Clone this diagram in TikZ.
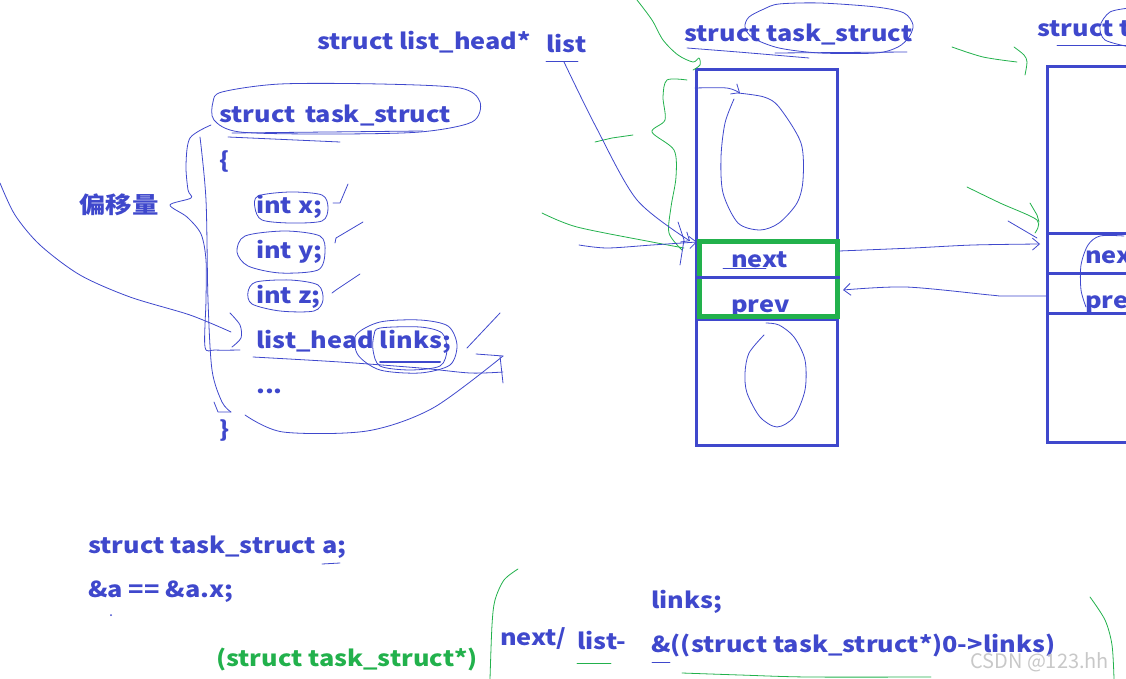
\documentclass[tikz,border=0pt]{standalone}
\usepackage{fontspec}
\newfontfamily\yh{Noto Sans CJK SC}[FakeStretch=1.15]
\newfontfamily\wmfont{Noto Sans CJK SC}
\usetikzlibrary{arrows.meta}
\definecolor{pblue}{HTML}{3F48CC}
\definecolor{pgreen}{HTML}{22B14C}
\definecolor{wm}{HTML}{C8C8C8}
\begin{document}
\begin{tikzpicture}[x=1pt,y=-1pt,
 txt/.style={font=\yh\bfseries\fontsize{22}{22}\selectfont, text=pblue, inner sep=0pt, anchor=base west},
 gtxt/.style={txt, text=pgreen},
 pen/.style={draw=pblue, line width=0.8pt, line cap=round, line join=round},
 gpen/.style={draw=pgreen, line width=0.8pt, line cap=round, line join=round},
 boxline/.style={draw=pblue, line width=3pt},
 harrow/.style={pen, -{Straight Barb[length=7pt,width=12pt]}},
 memo/.style={draw=pblue, line width=3pt, inner sep=0pt, anchor=north west}
]
\useasboundingbox (0,0) rectangle (1126,679);
\clip (0,0) rectangle (1126,679);

% ---------- left: structure text ----------
\node[txt] (lhp) at (317,50) {struct list\_head*};
\node[txt] (list) at (546,53) {list};
\node[txt] (ts) at (219,123) {struct\, task\_struct};
\node[txt] (ob) at (219,168) {\{};
\node[txt] (ix) at (256,213) {int x;};
\node[txt] (iy) at (256,258) {int y;};
\node[txt] (iz) at (256,303) {int z;};
\node[txt] (lh) at (256,348) {list\_head links;};
\node[txt] (dots) at (256,393) {...};
\node[txt] (cb) at (219,437) {\}};
\node[txt, anchor=west, font=\yh\bfseries\fontsize{23}{23}\selectfont] (off) at (79,205) {偏移量};

% underline of list
\draw[pen] (546,61) -- (578,61);
\coordinate (listfoot) at (564,62);

% ellipse around struct task_struct
\draw[pen] plot[smooth cycle] coordinates {(222,92) (280,84) (380,84) (460,88) (480,102) (472,122) (420,132) (330,134) (240,132) (214,120) (213,102)};
\draw[pen] (228,137) -- (340,142);
\draw[pen] (232,133) -- (423,131);

% brace with 偏移量
\draw[pen] plot[smooth] coordinates {(211,125) (190,138) (186,165) (188,190) (191,198) (170,205) (187,217) (201,234) (206,260) (206,300) (205,347) (215,350) (240,350)};
\draw[pen] plot[smooth] coordinates {(200,137) (206,200) (208,300) (212,370) (222,402) (231,412)};
\draw[pen] (214,402) -- (218,412) -- (231,412);

% big curve to list_head
\draw[pen] plot[smooth] coordinates {(0,183) (15,215) (40,245) (80,275) (130,297) (190,315) (231,332)};
\draw[pen] plot[smooth] coordinates {(230,313) (240,325) (241,338) (232,347)};

% ellipses around members
\draw[pen] plot[smooth cycle] coordinates {(258,196) (290,192) (322,195) (328,208) (322,221) (290,223) (262,220) (255,208)};
\draw[pen] plot[smooth cycle] coordinates {(245,236) (285,231) (320,236) (325,252) (318,270) (280,273) (248,266) (237,252)};
\draw[pen] plot[smooth cycle] coordinates {(256,282) (290,280) (318,285) (323,300) (314,311) (280,311) (252,304) (248,292)};
\draw[pen] plot[smooth cycle] coordinates {(380,322) (420,320) (448,326) (457,345) (450,365) (420,373) (380,370) (358,355) (356,335)};
\draw[pen] plot[smooth cycle] coordinates {(380,328) (420,327) (442,333) (447,350) (440,366) (410,370) (380,366) (373,350) (374,335)};
\draw[pen, line width=2pt] (380,362) -- (440,362);

% check marks
\draw[pen] (333,203) -- (340,203) -- (348,184);
\draw[pen] (335,243) -- (336,238) -- (363,222);
\draw[pen] (332,293) -- (336,290) -- (360,274);
\draw[pen] (467,348) -- (500,313);

% underline of list_head links and bottom curve
\draw[pen] plot[smooth] coordinates {(253,357) (340,362) (420,368) (470,373) (503,372)};
\draw[pen] (476,354) -- (503,356);
\draw[pen] (500,356) -- (503,383);
\draw[pen] plot[smooth] coordinates {(245,415) (283,432) (367,431) (433,408) (503,356)};

% ---------- box 1 ----------
\node[txt] (t1) at (684,42) {struct task\_struct};
\draw[pen] plot[smooth cycle] coordinates {(764,9) (779,4) (820,3) (876,7) (904,13) (913,25) (909,37) (898,47) (876,53) (820,53) (779,48) (753,38) (745,27) (749,17)};
\draw[pen] plot[smooth] coordinates {(687,48) (738,52) (809,58)};
\draw[pen] (775,53) -- (907,52);

\node[txt] (nx1) at (731,267) {next};
\node[txt] (pv1) at (731,312) {prev};
\draw[pen] (723,268) -- (766,268);

\node[memo, minimum width=141pt, minimum height=376pt] (b1) at (695,68) {};
\draw[boxline] (b1.west |- 0,319) -- (b1.east |- 0,319);
\node[draw=pgreen, line width=4.5pt, inner sep=0pt, minimum width=138pt, minimum height=75pt, anchor=north west] (np1) at (697,239) {};
\draw[boxline] (np1.west |- 0,277) -- (np1.east |- 0,277);

% ovals in box 1
\draw[pen] plot[smooth] coordinates {(734,99) (725,123) (721,157) (723,193) (738,223) (760,230) (779,223) (797,203) (803,180) (801,143) (779,107) (764,97) (738,93)};
\draw[harrow] plot[smooth] coordinates {(b1.north west |- 0,88) (727,88) (740,93)};
\draw[pen] plot[smooth] coordinates {(764,335) (749,353) (745,373) (747,393) (760,417) (777,427) (794,417) (805,390) (805,360) (794,337) (779,325) (766,323)};

% green marks near box 1
\draw[gpen] plot[smooth] coordinates {(637,0) (652,20) (663,40) (678,55) (693,62) (699,58) (700,65) (693,70)};
\draw[gpen] plot[smooth] coordinates {(687,80) (667,80) (663,97) (665,120) (652,132) (674,150) (676,177) (671,207) (669,233) (682,250)};
\draw[gpen] (595,142) -- (612,138) -- (633,135);
\draw[gpen] plot[smooth] coordinates {(542,213) (577,227) (652,242) (684,248)};

% arrows into next of box 1
\draw[harrow] plot[smooth] coordinates {(listfoot) (596,127) (637,200) (690,241)};
\draw[harrow] plot[smooth] coordinates {(579,245) (607,248) (652,245) (np1.west |- 0,242)};
\draw[pen] (678,222) -- (684,240) -- (680,265);

% ---------- box 2 ----------
\node[txt] (t2) at (1037,37) {struct task\_struct};
\draw[pen] (1057,45) -- (1126,45);
\draw[pen] plot[smooth] coordinates {(1130,8) (1110,12) (1100,26) (1105,40) (1130,47)};
\node[txt] (nx2) at (1085,263) {next};
\node[txt] (pv2) at (1085,308) {prev};
\node[memo, minimum width=120pt, minimum height=376pt] (b2) at (1046,65) {};
\draw[boxline] (b2.west |- 0,233) -- (b2.east |- 0,233);
\draw[boxline] (b2.west |- 0,273) -- (b2.east |- 0,273);
\draw[boxline] (b2.west |- 0,313) -- (b2.east |- 0,313);
\draw[pen] plot[smooth] coordinates {(1124,236) (1100,236) (1088,245) (1081,265) (1081,290) (1086,307)};

% next / prev links between boxes
\draw[harrow] plot[smooth] coordinates {(b1.east |- 0,251) (913,248) (973,245) (1040,244)};
\draw[pen] (1008,221) -- (1037,238);
\draw[harrow] plot[smooth] coordinates {(b2.west |- 0,296) (1003,296) (990,295) (906,287) (843,290)};

% green marks near box 2
\draw[gpen] plot[smooth] coordinates {(952,47) (983,57) (1017,62)};
\draw[gpen] plot[smooth] coordinates {(1014,47) (1024,55) (1027,62) (1025,75)};
\draw[gpen] plot[smooth] coordinates {(967,187) (1000,203) (1037,220) (1035,233)};
\draw[gpen] (1030,203) -- (1037,215) -- (1039,222);

% ---------- bottom ----------
\node[txt] (decl) at (88,553) {struct task\_struct a;};
\draw[pen] (322,564) -- (340,563);
\node[txt] (eq) at (88,597) {\&a == \&a.x;};
\fill[pblue] (111,615) circle (1pt);
\node[gtxt] (cast) at (216,666) {(struct task\_struct*)};
\draw[gpen] plot[smooth] coordinates {(518,569) (504,580) (495,600) (492,625) (490,679)};
\node[txt] (nxs) at (500,645) {next/};
\node[txt] (lm) at (577,649) {list-};
\draw[gpen] (577,663) -- (611,663);
\node[txt] (lk) at (651,608) {links;};
\node[txt] (off2) at (651,652) {\&((struct task\_struct*)0->links)};
\draw[pen] (652,662) -- (670,662);
\draw[gpen] plot[smooth] coordinates {(682,673) (740,675) (808,677) (931,677)};
\draw[gpen] plot[smooth] coordinates {(1090,597) (1105,620) (1112,645) (1114,679)};
\node[font=\wmfont\fontsize{20}{20}\selectfont, text=wm, inner sep=0pt, anchor=base west] (wmk) at (970,668) {CSDN @123.hh};
\end{tikzpicture}
\end{document}
